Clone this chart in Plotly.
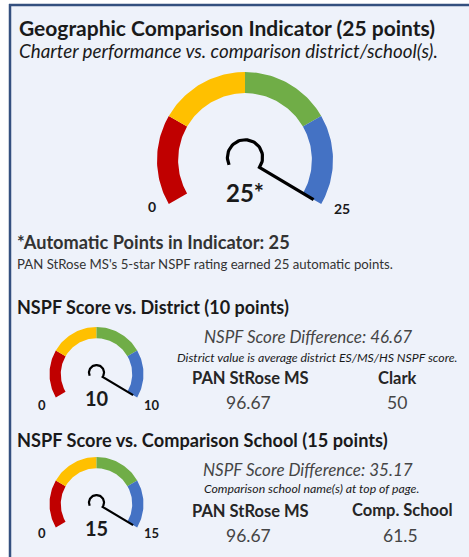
import numpy as np
import plotly.graph_objects as go

# ---- data ----
gauge_max = [25, 10, 15]
gauge_value = [25, 10, 15]
gauge_value_text = ["25*", "10", "15"]
band_edges = [0, 0.25, 0.5, 0.75, 1.0]   # share of max for each colour band

school_name = "PAN StRose MS"
school_score = 96.67
district_name = "Clark"
district_score = 50
comp_name = "Comp. School"
comp_score = 61.5
auto_points = 25

# ---- styling ----
W, H = 469, 557
band_colors = ["#C00000", "#FFC000", "#70AD47", "#4472C4"]
FONT = "Lato"
DARK = "#1a1a1a"
GRAY = "#454545"

# gauge centre (px), outer radius (px), inner ratio
gauges = [
    dict(cx=245, cy=160, R=88, hole=0.76, lw=3.2, hook=0.2, lab=14, val=24,
         lab0=(-1.06, -0.53), labmax=(1.10, -0.55), valpos=(0.0, -0.37)),
    dict(cx=96.5, cy=374, R=47, hole=0.76, lw=2.2, hook=0.16, lab=13, val=20,
         lab0=(-1.16, -0.66), labmax=(1.18, -0.66), valpos=(0.0, -0.52)),
    dict(cx=96.5, cy=504, R=47, hole=0.76, lw=2.2, hook=0.16, lab=13, val=20,
         lab0=(-1.16, -0.62), labmax=(1.18, -0.62), valpos=(0.0, -0.50)),
]

XR = (-1.45, 1.45)
YR = (-0.95, 1.1)


def to_angle(v, vmax):
    # 240 degree sweep: 0 at 210 deg, max at -30 deg
    return np.radians(210 - 240 * v / vmax)


fig = go.Figure()
annotations = []

for i, g in enumerate(gauges):
    n = "" if i == 0 else str(i + 1)
    xref, yref = "x" + n, "y" + n
    vmax = gauge_max[i]
    val = gauge_value[i]

    # colour bands
    for b in range(4):
        a0 = to_angle(band_edges[b] * vmax, vmax)
        a1 = to_angle(band_edges[b + 1] * vmax, vmax)
        t = np.linspace(a0, a1, 40)
        xs = np.concatenate([np.cos(t), g["hole"] * np.cos(t[::-1])])
        ys = np.concatenate([np.sin(t), g["hole"] * np.sin(t[::-1])])
        fig.add_trace(go.Scatter(
            x=np.append(xs, xs[0]), y=np.append(ys, ys[0]),
            mode="lines", fill="toself", fillcolor=band_colors[b],
            line=dict(width=0, color=band_colors[b]),
            hoverinfo="skip", showlegend=False,
            xaxis=xref, yaxis=yref))

    # needle with hook
    na = to_angle(val, vmax)
    hr = g["hook"]
    ht = np.linspace(np.radians(205), na - np.radians(5), 50)
    hx = hr * np.cos(ht)
    hy = hr * np.sin(ht) + 0.03
    nx = np.append(hx, 0.9 * np.cos(na))
    ny = np.append(hy, 0.9 * np.sin(na))
    fig.add_trace(go.Scatter(
        x=nx, y=ny, mode="lines",
        line=dict(color="black", width=g["lw"]),
        hoverinfo="skip", showlegend=False,
        xaxis=xref, yaxis=yref))

    # labels
    annotations.append(dict(x=g["lab0"][0], y=g["lab0"][1], xref=xref, yref=yref,
                            text="<b>0</b>", showarrow=False,
                            font=dict(size=g["lab"], color=DARK, family=FONT)))
    annotations.append(dict(x=g["labmax"][0], y=g["labmax"][1], xref=xref, yref=yref,
                            text=f"<b>{vmax}</b>", showarrow=False,
                            font=dict(size=g["lab"], color=DARK, family=FONT)))
    annotations.append(dict(x=g["valpos"][0], y=g["valpos"][1], xref=xref, yref=yref,
                            text=f"<b>{gauge_value_text[i]}</b>", showarrow=False,
                            font=dict(size=g["val"], color=DARK, family=FONT)))

    # axes placed so 1 unit = R px
    R, cx, cyb = g["R"], g["cx"], H - g["cy"]
    ax = dict(range=list(XR), visible=False, fixedrange=True,
              domain=[(cx + XR[0] * R) / W, (cx + XR[1] * R) / W])
    ay = dict(range=list(YR), visible=False, fixedrange=True,
              domain=[(cyb + YR[0] * R) / H, (cyb + YR[1] * R) / H])
    if i > 0:
        ax["anchor"] = yref
        ay["anchor"] = xref
    fig.update_layout({"xaxis" + n: ax, "yaxis" + n: ay})


def txt(x, y, text, size, color=DARK, anchor="left"):
    annotations.append(dict(x=x / W, y=1 - y / H, xref="paper", yref="paper",
                            text=text, showarrow=False, xanchor=anchor,
                            yanchor="middle",
                            font=dict(size=size, color=color, family=FONT)))


# headings
txt(17, 27, "<b>Geographic Comparison Indicator (25 points)</b>", 21)
txt(17, 50, "<i>Charter performance vs. comparison district/school(s).</i>", 18.8)
txt(15, 242, f"<b>*Automatic Points in Indicator: {auto_points}</b>", 18.2, "#333333")
txt(15, 264, f"{school_name}'s 5-star NSPF rating earned {auto_points} automatic points.",
    13.2, "#333333")

# district section
txt(15, 307, "<b>NSPF Score vs. District (10 points)</b>", 18)
txt(308, 336, f"<i>NSPF Score Difference: {school_score - district_score:.2f}</i>",
    17, GRAY, "center")
txt(317, 357, "<i>District value is average district ES/MS/HS NSPF score.</i>",
    12.3, DARK, "center")
txt(250, 378, f"<b>{school_name}</b>", 16.5, "#262626", "center")
txt(397, 378, f"<b>{district_name}</b>", 16.5, "#262626", "center")
txt(249, 402, f"{school_score:.2f}", 17.5, GRAY, "center")
txt(397, 402, f"{district_score}", 17.5, GRAY, "center")

# comparison school section
txt(15, 440, "<b>NSPF Score vs. Comparison School (15 points)</b>", 18.2)
txt(308, 469, f"<i>NSPF Score Difference: {school_score - comp_score:.2f}</i>",
    17, GRAY, "center")
txt(311, 488, "<i>Comparison school name(s) at top of page.</i>",
    12.3, DARK, "center")
txt(250, 511, f"<b>{school_name}</b>", 16.5, "#262626", "center")
txt(402, 510, f"<b>{comp_name}</b>", 16.5, "#262626", "center")
txt(249, 535, f"{school_score:.2f}", 17.5, GRAY, "center")
txt(400, 535, f"{comp_score}", 17.5, GRAY, "center")

# panel background and borders
shapes = [
    dict(type="rect", xref="paper", yref="paper", x0=10 / W, x1=1,
         y0=0, y1=1 - 5 / H, fillcolor="#EEF2FA", line=dict(width=0), layer="below"),
    dict(type="line", xref="paper", yref="paper", x0=10 / W, x1=10 / W,
         y0=0, y1=1 - 4 / H, line=dict(color="#34507F", width=2.5), layer="below"),
    dict(type="line", xref="paper", yref="paper", x0=9 / W, x1=1,
         y0=1 - 5 / H, y1=1 - 5 / H, line=dict(color="#34507F", width=2.5), layer="below"),
]

fig.update_layout(
    width=W, height=H,
    margin=dict(l=0, r=0, t=0, b=0),
    paper_bgcolor="white",
    plot_bgcolor="rgba(0,0,0,0)",
    showlegend=False,
    annotations=annotations,
    shapes=shapes,
)

# page body has a default 8px margin; drop it so the figure fills the window
fig.write_html("out.html", config={"displayModeBar": False},
               post_script="document.body.style.margin='0';")
